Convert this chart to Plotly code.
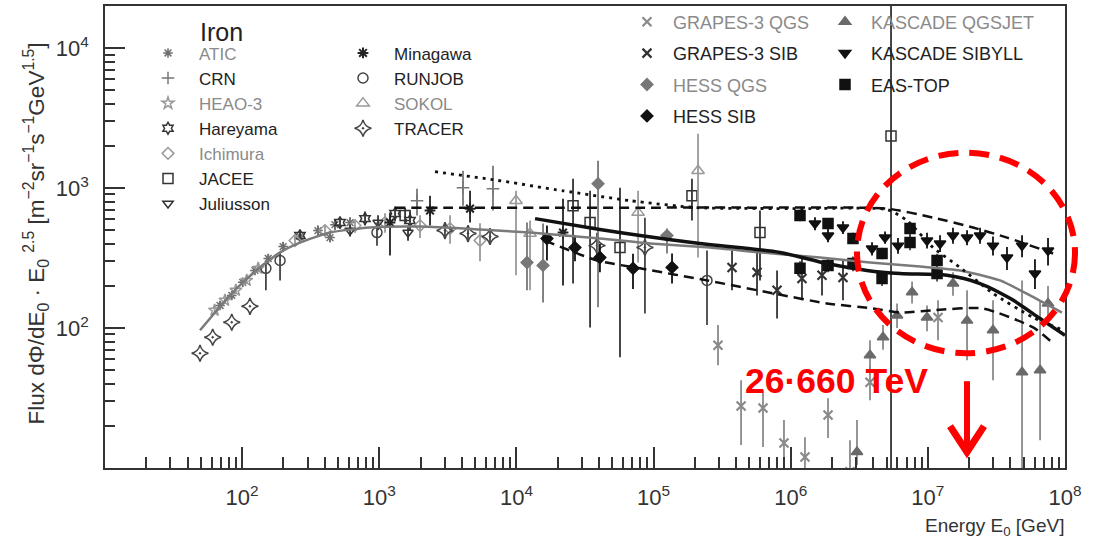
import plotly.graph_objects as go

# ---------------- data (energy E0 in GeV, flux * E^2.5) ----------------
ATIC_E = [69, 84, 101, 124, 155, 199, 264, 357, 475, 612, 437]
ATIC_F = [145, 171, 212, 258, 314, 382, 451, 497, 548, 567, 443]
ATIC_LO = [135, 160, 198, 240, 290, 350, 415, 455, 500, 515, 410]
ATIC_HI = [156, 183, 226, 276, 338, 412, 490, 540, 600, 620, 478]

CRN_E = [1884, 4078, 6746]
CRN_F = [813, 1007, 991]
CRN_LO = [636, 749, 691]
CRN_HI = [991, 1330, 1445]

HEAO_E = [63, 75, 90, 108, 131]
HEAO_F = [134, 158, 186, 219, 267]
HEAO_LO = [127, 150, 176, 207, 252]
HEAO_HI = [141, 166, 196, 231, 282]

HAREYAMA_E = [264, 517, 787, 1303, 1675]
HAREYAMA_F = [458, 567, 605, 658, 586]
HAREYAMA_LO = [420, 520, 540, 580, 500]
HAREYAMA_HI = [500, 620, 680, 740, 680]

ICHIMURA_E = [243, 402, 665, 1101, 1982, 3281, 5425]
ICHIMURA_F = [422, 497, 540, 567, 540, 514, 422]
ICHIMURA_LO = [390, 455, 480, 480, 440, 400, 300]
ICHIMURA_HI = [455, 540, 600, 660, 640, 640, 560]

JACEE_E = [1542, 25870, 34430, 56900, 190500, 597000, 5388000]
JACEE_F = [636, 749, 567, 376, 883, 481, 2360]
JACEE_LO = [560, 208, 101, 61.8, 586, 219, 10]
JACEE_HI = [720, 1167, 957, 1007, 1167, 691, 30000]

JULIUSSON_E = [612, 979, 1620]
JULIUSSON_F = [497, 567, 481]
JULIUSSON_LO = [450, 500, 420]
JULIUSSON_HI = [550, 640, 540]

MINAGAWA_E = [1197, 2344, 4589, 21860]
MINAGAWA_F = [567, 691, 713, 481]
MINAGAWA_LO = [330, 540, 567, 201]
MINAGAWA_HI = [668, 883, 957, 840]

RUNJOB_E = [149, 189, 962, 245200]
RUNJOB_F = [267, 304, 481, 219]
RUNJOB_LO = [186, 219, 388, 105]
RUNJOB_HI = [290, 347, 567, 358]

SOKOL_E = [9930, 12560, 77100, 211000]
SOKOL_F = [813, 473, 668, 1330]
SOKOL_LO = [238, 186, 294, 319]
SOKOL_HI = [957, 586, 957, 2442]

TRACER_E = [49.3, 61, 84, 114, 3013, 4436, 6417, 38700, 86500]
TRACER_F = [66.1, 85.9, 110, 143, 497, 473, 451, 388, 376]
TRACER_LO = [66.1, 85.9, 110, 143, 440, 420, 400, 300, 127]
TRACER_HI = [66.1, 85.9, 110, 143, 560, 530, 510, 480, 615]

GRAPES_QGS_E = [295000, 434500, 628000, 893000, 1270000, 1871000, 2705000, 3784000, 11860000]
GRAPES_QGS_F = [75.3, 27.7, 26.8, 15.1, 12.0, 23.9, 9.4, 41.0, 119]
GRAPES_QGS_LO = [54.2, 14.6, 14.1, 10.3, 10.0, 16.4, 8.0, 30.5, 81.7]
GRAPES_QGS_HI = [105, 42.4, 35.9, 22.0, 16.6, 31.5, 15.8, 54.2, 158]

GRAPES_SIB_E = [373300, 568000, 795000, 1208000, 1691000, 2405000]
GRAPES_SIB_F = [271, 250, 186, 226, 238, 230]
GRAPES_SIB_LO = [186, 171, 117, 158, 171, 158]
GRAPES_SIB_HI = [358, 358, 258, 330, 304, 304]

HESS_QGS_E = [11940, 15630, 39360, 125300]
HESS_QGS_F = [294, 280, 1075, 458]
HESS_QGS_LO = [186, 152, 141, 341]
HESS_QGS_HI = [567, 558, 1567, 514]

HESS_SIB_E = [16700, 26730, 40640, 70800, 136300]
HESS_SIB_F = [436, 376, 319, 267, 271]
HESS_SIB_LO = [304, 300, 250, 190, 208]
HESS_SIB_HI = [540, 460, 400, 340, 341]

KAS_QGS_E = [3042000, 3784000, 4710000, 5961000, 7670000, 9860000, 15250000,
             19310000, 29850000, 48610000, 65800000, 75200000]
KAS_QGS_F = [13.0, 63.9, 85.9, 123, 180, 119, 208, 113, 96.4, 48.3, 49.9, 150]
KAS_QGS_LO = [10.5, 48.3, 70, 100, 150, 95, 170, 58.9, 42.4, 9, 15.8, 110]
KAS_QGS_HI = [22, 81.7, 105, 150, 215, 145, 250, 186, 158, 219, 158, 200]

KAS_SIB_E = [1503000, 1871000, 2405000, 3916000, 4873000, 6056000, 9860000, 12270000,
             15250000, 19310000, 24010000, 29850000, 37760000, 48610000, 60400000, 75200000]
KAS_SIB_F = [558, 458, 523, 370, 443, 388, 422, 402, 458, 443, 458, 388, 319, 388, 245, 358]
KAS_SIB_LO = [500, 410, 470, 330, 400, 340, 370, 350, 400, 390, 400, 330, 260, 320, 190, 280]
KAS_SIB_HI = [620, 510, 580, 410, 490, 440, 480, 460, 520, 500, 520, 450, 380, 460, 310, 440]

EASTOP_E = [1169000, 1871000, 2844000, 4634000, 7413000, 7413000, 11670000,
            1169000, 1871000, 2844000, 4634000, 11670000]
EASTOP_F = [636, 558, 436, 341, 514, 408, 304, 267, 280, 289, 226, 245]
EASTOP_LO = [580, 510, 400, 310, 400, 360, 270, 240, 250, 255, 200, 215]
EASTOP_HI = [700, 610, 480, 375, 570, 460, 340, 300, 315, 325, 255, 280]

# model / fit curves
GRAY_E = [49.3, 63.4, 81.5, 105, 135, 189, 264, 437, 855, 1982, 5425, 12560, 40640, 94200,
          258000, 597000, 1637000, 3784000, 8770000, 17180000, 33600000, 55600000, 95000000]
GRAY_F = [96.4, 129, 171, 219, 271, 347, 408, 481, 523, 531, 506, 481, 436, 402,
          376, 347, 319, 294, 275, 258, 219, 171, 129]

BLACK_E = [13670, 40640, 79600, 218000, 835000, 1840000, 3600000, 6270000, 13800000,
           24010000, 39700000, 65800000, 100000000]
BLACK_F = [605, 506, 458, 402, 347, 289, 258, 245, 238, 208, 163, 117, 88.8]

UPPER_DASH_E = [1303, 3281, 17580, 94200, 504800, 5040000, 10900000, 21300000, 37760000, 81900000]
UPPER_DASH_F = [725, 725, 725, 725, 725, 713, 615, 523, 443, 341]

LOWER_DASH_E = [16140, 38700, 79600, 245200, 743000, 1840000, 3980000, 6270000, 10900000,
                25200000, 58500000, 81900000]
LOWER_DASH_F = [422, 304, 267, 219, 177, 150, 138, 129, 134, 138, 101, 77.8]

DOTTED_E = [2548, 6746, 21860, 67300, 207300, 1169000, 5040000, 7050000, 10900000,
            17180000, 29850000, 58500000, 97000000]
DOTTED_F = [1309, 1148, 957, 813, 725, 713, 702, 586, 376, 271, 177, 119, 96.4]

X_TICKS = [1e2, 1e3, 1e4, 1e5, 1e6, 1e7, 1e8]
X_TICK_TEXT = ["10<sup>2</sup>", "10<sup>3</sup>", "10<sup>4</sup>", "10<sup>5</sup>",
               "10<sup>6</sup>", "10<sup>7</sup>", "10<sup>8</sup>"]
Y_TICKS = [1e2, 1e3, 1e4]
Y_TICK_TEXT = ["10<sup>2</sup>", "10<sup>3</sup>", "10<sup>4</sup>"]

# ---------------- layout helpers ----------------
W, H = 1103, 543
L, R, T, B = 105, 38, 5, 75
PW, PH = W - L - R, H - T - B


def px(x):
    return (x - L) / PW


def py(y):
    return (H - B - y) / PH


FONT = "Liberation Sans, Arial, sans-serif"
DARK = "#222222"
GRAY = "#8a8a8a"

fig = go.Figure()


def add_series(name, E, F, lo, hi, symbol, color, size, legend, label_color=DARK,
               ecolor=None, lw=1.5):
    label = name if label_color == DARK else f'<span style="color:{label_color}">{name}</span>'
    fig.add_trace(go.Scatter(
        x=E, y=F, mode="markers", name=label, legend=legend, legendgroup=name,
        marker=dict(symbol=symbol, size=size, color=color, line=dict(color=color, width=lw)),
        error_y=dict(type="data", symmetric=False,
                     array=[h - f for f, h in zip(F, hi)],
                     arrayminus=[f - l for f, l in zip(F, lo)],
                     color=ecolor or color, thickness=1.8, width=0),
        hoverinfo="skip",
    ))


# left legend column 1
add_series("ATIC", ATIC_E, ATIC_F, ATIC_LO, ATIC_HI, "asterisk-open", "#6e6e6e", 8, "legend", GRAY)
add_series("CRN", CRN_E, CRN_F, CRN_LO, CRN_HI, "cross-thin-open", "#777777", 9, "legend", DARK)
add_series("HEAO-3", HEAO_E, HEAO_F, HEAO_LO, HEAO_HI, "star-open", "#999999", 9, "legend", GRAY)
add_series("Hareyama", HAREYAMA_E, HAREYAMA_F, HAREYAMA_LO, HAREYAMA_HI, "hexagram-open", "#333333", 9, "legend")
add_series("Ichimura", ICHIMURA_E, ICHIMURA_F, ICHIMURA_LO, ICHIMURA_HI, "diamond-open", "#999999", 9, "legend", GRAY)
add_series("JACEE", JACEE_E, JACEE_F, JACEE_LO, JACEE_HI, "square-open", "#333333", 10, "legend")
add_series("Juliusson", JULIUSSON_E, JULIUSSON_F, JULIUSSON_LO, JULIUSSON_HI, "triangle-down-open", "#333333", 9, "legend")
# left legend column 2
add_series("Minagawa", MINAGAWA_E, MINAGAWA_F, MINAGAWA_LO, MINAGAWA_HI, "asterisk-open", "#222222", 9, "legend2", lw=2)
add_series("RUNJOB", RUNJOB_E, RUNJOB_F, RUNJOB_LO, RUNJOB_HI, "circle-open", "#444444", 10, "legend2")
add_series("SOKOL", SOKOL_E, SOKOL_F, SOKOL_LO, SOKOL_HI, "triangle-up-open", "#999999", 11, "legend2", GRAY)
add_series("TRACER", TRACER_E, TRACER_F, TRACER_LO, TRACER_HI, "star-diamond-open-dot", "#444444", 12, "legend2")
# right legend column 1
add_series("GRAPES-3 QGS", GRAPES_QGS_E, GRAPES_QGS_F, GRAPES_QGS_LO, GRAPES_QGS_HI, "x-thin-open", "#8a8a8a", 9, "legend3", GRAY, lw=2.2)
add_series("GRAPES-3 SIB", GRAPES_SIB_E, GRAPES_SIB_F, GRAPES_SIB_LO, GRAPES_SIB_HI, "x-thin-open", "#333333", 9, "legend3", lw=2.2)
add_series("HESS QGS", HESS_QGS_E, HESS_QGS_F, HESS_QGS_LO, HESS_QGS_HI, "diamond", "#777777", 9, "legend3", GRAY)
add_series("HESS SIB", HESS_SIB_E, HESS_SIB_F, HESS_SIB_LO, HESS_SIB_HI, "diamond", "#111111", 9, "legend3")
# right legend column 2
add_series("KASCADE QGSJET", KAS_QGS_E, KAS_QGS_F, KAS_QGS_LO, KAS_QGS_HI, "triangle-up", "#6a6a6a", 10, "legend4", GRAY, ecolor="#8a8a8a")
add_series("KASCADE SIBYLL", KAS_SIB_E, KAS_SIB_F, KAS_SIB_LO, KAS_SIB_HI, "triangle-down", "#111111", 10, "legend4")
add_series("EAS-TOP", EASTOP_E, EASTOP_F, EASTOP_LO, EASTOP_HI, "square", "#111111", 10, "legend4", ecolor="#444444")


# curves
def add_curve(E, F, color, width, dash, smoothing=0.6):
    fig.add_trace(go.Scatter(x=E, y=F, mode="lines", showlegend=False, hoverinfo="skip",
                             line=dict(color=color, width=width, dash=dash, shape="spline",
                                       smoothing=smoothing)))


add_curve(GRAY_E, GRAY_F, "#7a7a7a", 2.5, "solid")
add_curve(UPPER_DASH_E, UPPER_DASH_F, "#111111", 2.5, "10px,6px")
add_curve(LOWER_DASH_E, LOWER_DASH_F, "#111111", 2.5, "10px,6px")
add_curve(DOTTED_E, DOTTED_F, "#111111", 2.8, "3px,5px")
add_curve(BLACK_E, BLACK_F, "#111111", 3.5, "solid", 0.8)

x_minor = [d * 10 ** k for k in range(1, 8) for d in range(2, 10)]
y_minor = [d * 10 ** k for k in range(1, 5) for d in range(2, 10) if d * 10 ** k <= 20000]

axis_common = dict(
    type="log", showgrid=False, zeroline=False, showline=True, linecolor="#333333", linewidth=1.6,
    mirror=True, ticks="inside", tickwidth=1.6, tickcolor="#333333",
    tickfont=dict(family=FONT, size=22, color="#333333"),
)

fig.update_layout(
    width=W, height=H,
    margin=dict(l=L, r=R, t=T, b=B),
    paper_bgcolor="white", plot_bgcolor="white",
    font=dict(family=FONT, color=DARK),
    xaxis=dict(axis_common, range=[1, 8], tickmode="array", tickvals=X_TICKS, ticktext=X_TICK_TEXT,
               ticklen=21, ticklabelstandoff=9,
               minor=dict(tickmode="array", tickvals=x_minor, ticks="inside", ticklen=11,
                          tickwidth=1.6, tickcolor="#333333", showgrid=False)),
    yaxis=dict(axis_common, range=[1, 4.301], tickmode="array", tickvals=Y_TICKS, ticktext=Y_TICK_TEXT,
               ticklen=20, ticklabelstandoff=10,
               minor=dict(tickmode="array", tickvals=y_minor, ticks="inside", ticklen=10,
                          tickwidth=1.6, tickcolor="#333333", showgrid=False)),
    legend=dict(x=px(137), y=py(35.4), xanchor="left", yanchor="top", bgcolor="rgba(0,0,0,0)",
                font=dict(family=FONT, size=17, color=DARK), itemwidth=52, traceorder="grouped",
                tracegroupgap=0, itemclick=False),
    legend2=dict(x=px(332), y=py(35.4), xanchor="left", yanchor="top", bgcolor="rgba(0,0,0,0)",
                 font=dict(family=FONT, size=17, color=DARK), itemwidth=52, traceorder="grouped",
                 tracegroupgap=0, itemclick=False),
    legend3=dict(x=px(621), y=py(3.5), xanchor="left", yanchor="top", bgcolor="rgba(0,0,0,0)",
                 font=dict(family=FONT, size=18, color=DARK), itemwidth=42, traceorder="grouped",
                 tracegroupgap=5, itemclick=False),
    legend4=dict(x=px(819), y=py(3.5), xanchor="left", yanchor="top", bgcolor="rgba(0,0,0,0)",
                 font=dict(family=FONT, size=18, color=DARK), itemwidth=42, traceorder="grouped",
                 tracegroupgap=5, itemclick=False),
)

RED = "#ff0000"
fig.update_layout(
    annotations=[
        dict(text="Iron", xref="paper", yref="paper", x=px(198), y=py(31), xanchor="left",
             yanchor="middle", showarrow=False, font=dict(family=FONT, size=25, color=DARK)),
        dict(text="Flux dΦ/dE<sub>0</sub> · E<sub>0</sub> <sup>2.5</sup> [m<sup>−2</sup>sr<sup>−1</sup>s<sup>−1</sup>GeV<sup>1.5</sup>]",
             xref="paper", yref="paper", x=px(36), y=py(233), xanchor="center", yanchor="middle",
             textangle=-90, showarrow=False, font=dict(family=FONT, size=22.5, color="#333333")),
        dict(text="Energy E<sub>0</sub> [GeV]", xref="paper", yref="paper", x=px(1066), y=py(527),
             xanchor="right", yanchor="middle", showarrow=False,
             font=dict(family=FONT, size=19, color="#333333")),
        dict(text="<b>26·660 TeV</b>", xref="paper", yref="paper", x=px(743), y=py(381),
             xanchor="left", yanchor="middle", showarrow=False,
             font=dict(family=FONT, size=35.5, color=RED)),
    ],
    shapes=[
        dict(type="circle", xref="paper", yref="paper", x0=px(857), x1=px(1075), y0=py(353), y1=py(152),
             line=dict(color=RED, width=6, dash="20px,11px")),
        dict(type="line", xref="paper", yref="paper", x0=px(967), x1=px(967), y0=py(381), y1=py(450),
             line=dict(color=RED, width=6)),
        dict(type="path", xref="paper", yref="paper",
             path=f"M {px(950)} {py(426)} L {px(967)} {py(452)} L {px(984)} {py(426)}",
             line=dict(color=RED, width=7)),
    ],
)

fig.write_html("out.html")
